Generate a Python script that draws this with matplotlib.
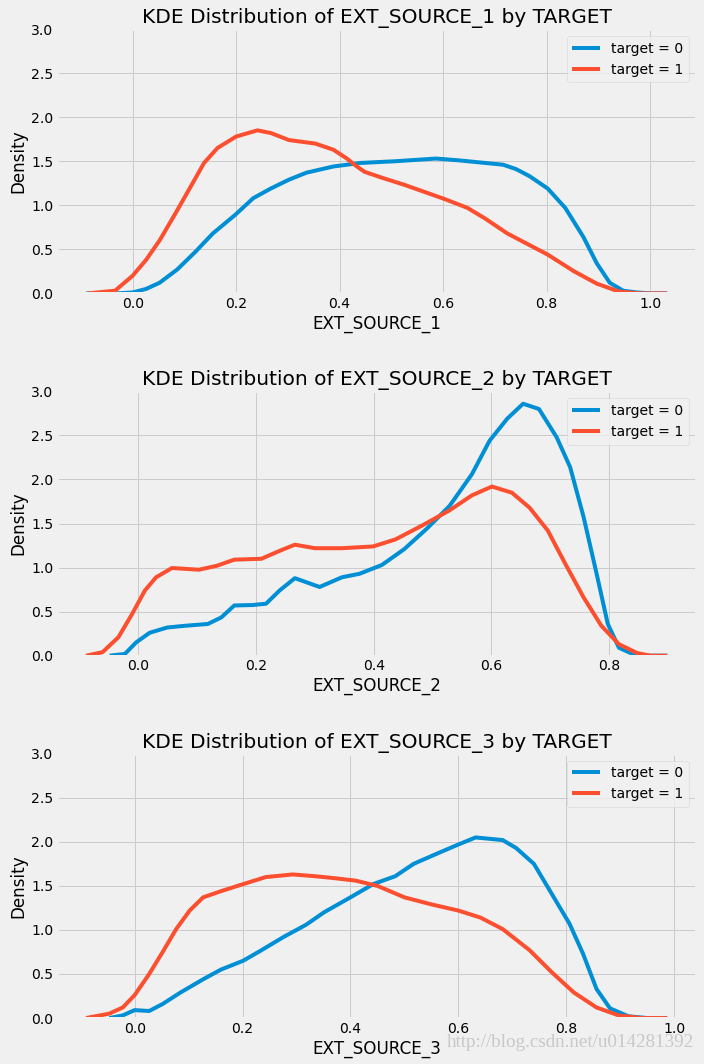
import matplotlib
matplotlib.use("Agg")
import matplotlib.pyplot as plt

plt.style.use("fivethirtyeight")

# EXT_SOURCE_1
x1_t0 = [-0.09, -0.03, 0.0, 0.026, 0.052, 0.086, 0.121, 0.155, 0.198, 0.233, 0.267, 0.302,
         0.336, 0.388, 0.44, 0.509, 0.586, 0.629, 0.664, 0.716, 0.741, 0.767, 0.802, 0.836,
         0.871, 0.897, 0.922, 0.948, 0.974, 1.0, 1.033]
y1_t0 = [0.0, 0.0, 0.01, 0.05, 0.12, 0.27, 0.47, 0.68, 0.89, 1.08, 1.19, 1.29,
         1.37, 1.44, 1.48, 1.50, 1.53, 1.51, 1.49, 1.46, 1.41, 1.33, 1.19, 0.97,
         0.64, 0.34, 0.12, 0.03, 0.01, 0.0, 0.0]
x1_t1 = [-0.086, -0.034, 0.0, 0.026, 0.052, 0.082, 0.112, 0.138, 0.164, 0.2, 0.241, 0.267,
         0.302, 0.353, 0.388, 0.414, 0.431, 0.448, 0.483, 0.526, 0.603, 0.647, 0.681, 0.724,
         0.802, 0.853, 0.897, 0.94, 0.98, 1.033]
y1_t1 = [0.0, 0.03, 0.2, 0.38, 0.6, 0.9, 1.21, 1.48, 1.65, 1.78, 1.85, 1.82,
         1.74, 1.70, 1.63, 1.53, 1.45, 1.38, 1.31, 1.23, 1.07, 0.97, 0.85, 0.68,
         0.44, 0.25, 0.11, 0.02, 0.0, 0.0]

# EXT_SOURCE_2
x2_t0 = [-0.049, -0.023, -0.004, 0.019, 0.049, 0.08, 0.118, 0.141, 0.163, 0.194, 0.217, 0.24,
         0.266, 0.308, 0.346, 0.376, 0.414, 0.452, 0.49, 0.529, 0.567, 0.597, 0.627, 0.654,
         0.681, 0.711, 0.734, 0.757, 0.779, 0.798, 0.817, 0.84, 0.87, 0.899]
y2_t0 = [0.0, 0.02, 0.15, 0.26, 0.32, 0.34, 0.36, 0.435, 0.57, 0.575, 0.59, 0.74,
         0.88, 0.78, 0.89, 0.93, 1.03, 1.21, 1.44, 1.70, 2.06, 2.44, 2.69, 2.86,
         2.80, 2.48, 2.14, 1.57, 0.93, 0.36, 0.09, 0.02, 0.0, 0.0]
x2_t1 = [-0.089, -0.061, -0.034, -0.011, 0.011, 0.03, 0.057, 0.103, 0.133, 0.163, 0.209, 0.24,
         0.266, 0.3, 0.346, 0.399, 0.437, 0.483, 0.529, 0.567, 0.601, 0.635, 0.665, 0.696,
         0.726, 0.757, 0.787, 0.817, 0.848, 0.87, 0.899]
y2_t1 = [0.0, 0.04, 0.21, 0.47, 0.74, 0.89, 0.995, 0.976, 1.02, 1.09, 1.10, 1.19,
         1.26, 1.22, 1.22, 1.24, 1.32, 1.48, 1.65, 1.82, 1.92, 1.85, 1.68, 1.42,
         1.04, 0.66, 0.34, 0.13, 0.03, 0.0, 0.0]

# EXT_SOURCE_3
x3_t0 = [-0.047, -0.022, 0.0, 0.027, 0.052, 0.085, 0.127, 0.16, 0.201, 0.235, 0.276, 0.318,
         0.351, 0.4, 0.442, 0.483, 0.517, 0.558, 0.6, 0.632, 0.682, 0.707, 0.74, 0.773,
         0.806, 0.831, 0.856, 0.881, 0.915, 0.95, 0.987]
y3_t0 = [0.0, 0.03, 0.09, 0.08, 0.16, 0.29, 0.44, 0.55, 0.65, 0.77, 0.92, 1.06,
         1.20, 1.37, 1.52, 1.61, 1.75, 1.86, 1.97, 2.05, 2.02, 1.93, 1.75, 1.41,
         1.07, 0.73, 0.33, 0.11, 0.02, 0.0, 0.0]
x3_t1 = [-0.09, -0.047, -0.022, 0.0, 0.027, 0.052, 0.077, 0.102, 0.127, 0.16, 0.201, 0.243,
         0.293, 0.334, 0.367, 0.409, 0.45, 0.5, 0.55, 0.6, 0.641, 0.682, 0.732, 0.773,
         0.814, 0.856, 0.897, 0.94, 0.987]
y3_t1 = [0.0, 0.05, 0.12, 0.26, 0.5, 0.75, 1.01, 1.22, 1.37, 1.44, 1.52, 1.60,
         1.63, 1.61, 1.59, 1.56, 1.50, 1.37, 1.29, 1.22, 1.14, 1.01, 0.77, 0.52,
         0.29, 0.12, 0.03, 0.0, 0.0]

sources = ["EXT_SOURCE_1", "EXT_SOURCE_2", "EXT_SOURCE_3"]
curves = [
    (x1_t0, y1_t0, x1_t1, y1_t1),
    (x2_t0, y2_t0, x2_t1, y2_t1),
    (x3_t0, y3_t0, x3_t1, y3_t1),
]

fig, axes = plt.subplots(3, 1, figsize=(704 / 72, 1064 / 72), dpi=72)
fig.subplots_adjust(left=0.081, right=0.989, top=0.9727, bottom=0.0432, hspace=0.371)

for ax, source, (xa, ya, xb, yb) in zip(axes, sources, curves):
    ax.plot(xa, ya, label="target = 0", solid_joinstyle="round")
    ax.plot(xb, yb, label="target = 1", solid_joinstyle="round")
    ax.set_ylim(0, 3)
    ax.set_title("KDE Distribution of %s by TARGET" % source)
    ax.set_xlabel(source)
    ax.set_ylabel("Density")
    ax.legend(loc="upper right")

# watermark from the source image
fig.text(0.985, 0.02, "http://blog.csdn.net/u014281392", ha="right", va="center",
         color="#c8c8c8", fontsize=19, family="Liberation Serif")

fig.savefig("out.png", dpi=72, facecolor=fig.get_facecolor())
